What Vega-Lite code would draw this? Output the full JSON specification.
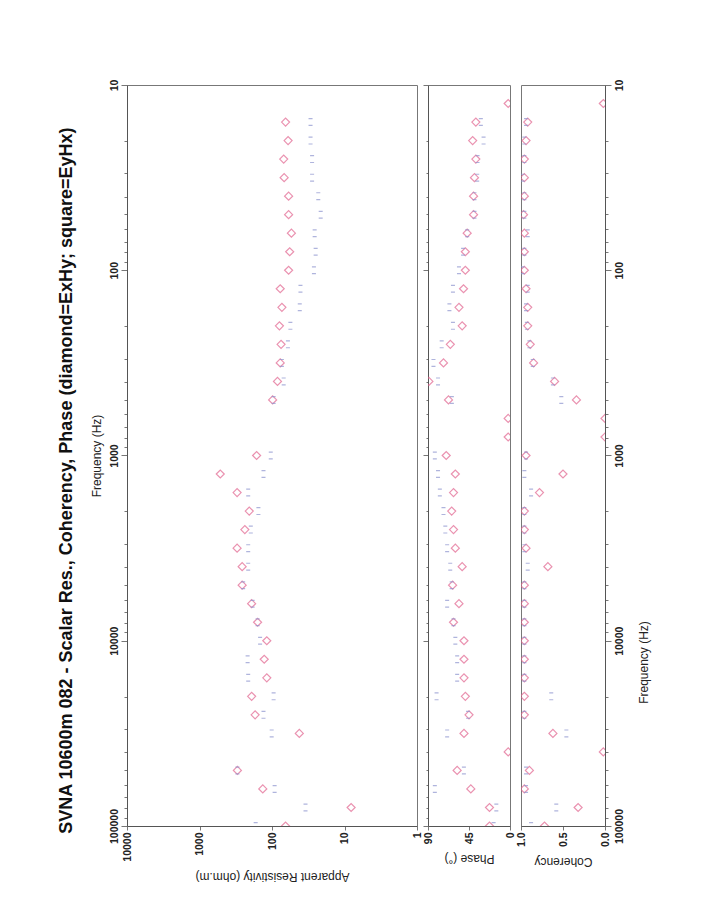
{
  "$schema": "https://vega.github.io/schema/vega-lite/v6.json",
  "background": "white",
  "padding": {"left": 57, "top": 78, "right": 5, "bottom": 5},
  "bounds": "flush",
  "spacing": 11,
  "title": {
    "text": "SVNA 10600m 082 - Scalar Res., Coherency, Phase (diamond=ExHy; square=EyHx)",
    "orient": "left",
    "anchor": "middle",
    "font": "Liberation Sans",
    "fontSize": 18,
    "fontWeight": "bold",
    "color": "#111",
    "offset": 14
  },
  "config": {
    "font": "Liberation Sans",
    "view": {"stroke": "#777", "strokeWidth": 1},
    "axis": {
      "labelFont": "Liberation Sans",
      "labelFontWeight": "bold",
      "labelFontSize": 10.5,
      "labelColor": "#222",
      "titleFont": "Liberation Sans",
      "titleFontWeight": "normal",
      "titleFontSize": 12,
      "titleColor": "#222",
      "domainColor": "#555",
      "tickColor": "#777",
      "grid": false
    },
    "point": {"filled": false, "strokeWidth": 1.2, "size": 64}
  },
  "datasets": {
    "mt": [
      {"f": 12.589, "c": "ExHy", "rho": null, "ph": 2, "coh": 0.02},
      {"f": 15.849, "c": "ExHy", "rho": 65, "ph": 37.5, "coh": 0.92},
      {"f": 19.953, "c": "ExHy", "rho": 60, "ph": 41, "coh": 0.94},
      {"f": 25.119, "c": "ExHy", "rho": 69, "ph": 37.5, "coh": 0.96},
      {"f": 31.623, "c": "ExHy", "rho": 68, "ph": 39, "coh": 0.96},
      {"f": 39.811, "c": "ExHy", "rho": 59, "ph": 40, "coh": 0.96},
      {"f": 50.119, "c": "ExHy", "rho": 59, "ph": 40, "coh": 0.97},
      {"f": 63.096, "c": "ExHy", "rho": 54, "ph": 47, "coh": 0.96},
      {"f": 79.433, "c": "ExHy", "rho": 57, "ph": 49, "coh": 0.96},
      {"f": 100, "c": "ExHy", "rho": 59, "ph": 49, "coh": 0.96},
      {"f": 125.89, "c": "ExHy", "rho": 77, "ph": 51, "coh": 0.94},
      {"f": 158.49, "c": "ExHy", "rho": 73, "ph": 56, "coh": 0.92},
      {"f": 199.53, "c": "ExHy", "rho": 79, "ph": 52.5, "coh": 0.92},
      {"f": 251.19, "c": "ExHy", "rho": 75, "ph": 65.5, "coh": 0.89},
      {"f": 316.23, "c": "ExHy", "rho": 77, "ph": 73, "coh": 0.85},
      {"f": 398.11, "c": "ExHy", "rho": 84, "ph": 89, "coh": 0.6},
      {"f": 501.19, "c": "ExHy", "rho": 98, "ph": 67.5, "coh": 0.34},
      {"f": 630.96, "c": "ExHy", "rho": null, "ph": 2, "coh": 0.0},
      {"f": 794.33, "c": "ExHy", "rho": null, "ph": 2, "coh": 0.0},
      {"f": 1000, "c": "ExHy", "rho": 163, "ph": 70, "coh": 0.94},
      {"f": 1258.9, "c": "ExHy", "rho": 517, "ph": 60, "coh": 0.5},
      {"f": 1584.9, "c": "ExHy", "rho": 303, "ph": 62, "coh": 0.78},
      {"f": 1995.3, "c": "ExHy", "rho": 206, "ph": 64, "coh": 0.96},
      {"f": 2511.9, "c": "ExHy", "rho": 237, "ph": 62, "coh": 0.96},
      {"f": 3162.3, "c": "ExHy", "rho": 303, "ph": 60, "coh": 0.94},
      {"f": 3981.1, "c": "ExHy", "rho": 258, "ph": 52.5, "coh": 0.68},
      {"f": 5011.9, "c": "ExHy", "rho": 258, "ph": 63, "coh": 0.96},
      {"f": 6309.6, "c": "ExHy", "rho": 191, "ph": 56, "coh": 0.96},
      {"f": 7943.3, "c": "ExHy", "rho": 158, "ph": 62, "coh": 0.96},
      {"f": 10000, "c": "ExHy", "rho": 118, "ph": 50.5, "coh": 0.96},
      {"f": 12589, "c": "ExHy", "rho": 128, "ph": 50.5, "coh": 0.96},
      {"f": 15849, "c": "ExHy", "rho": 118, "ph": 50.5, "coh": 0.96},
      {"f": 19953, "c": "ExHy", "rho": 191, "ph": 49, "coh": 0.96},
      {"f": 25119, "c": "ExHy", "rho": 171, "ph": 45, "coh": 0.96},
      {"f": 31623, "c": "ExHy", "rho": 42, "ph": 50.5, "coh": 0.62},
      {"f": 39811, "c": "ExHy", "rho": null, "ph": 2, "coh": 0.02},
      {"f": 50119, "c": "ExHy", "rho": 300, "ph": 58, "coh": 0.9},
      {"f": 63096, "c": "ExHy", "rho": 134, "ph": 43, "coh": 0.96},
      {"f": 79433, "c": "ExHy", "rho": 8.1, "ph": 22.5, "coh": 0.32},
      {"f": 100000, "c": "ExHy", "rho": 65, "ph": 22.5, "coh": 0.72},
      {"f": 15.849, "c": "EyHx", "rho": 29.4, "ph": 32, "coh": 0.94},
      {"f": 19.953, "c": "EyHx", "rho": 29.4, "ph": 29, "coh": 0.96},
      {"f": 25.119, "c": "EyHx", "rho": 28, "ph": 35.6, "coh": 0.96},
      {"f": 31.623, "c": "EyHx", "rho": 28, "ph": 36, "coh": 0.98},
      {"f": 39.811, "c": "EyHx", "rho": 23, "ph": 39, "coh": 0.96},
      {"f": 50.119, "c": "EyHx", "rho": 21.3, "ph": 39, "coh": 0.96},
      {"f": 63.096, "c": "EyHx", "rho": 25.8, "ph": 47, "coh": 0.92},
      {"f": 79.433, "c": "EyHx", "rho": 25, "ph": 51.5, "coh": 0.96},
      {"f": 100, "c": "EyHx", "rho": 26.4, "ph": 56, "coh": 0.98},
      {"f": 125.89, "c": "EyHx", "rho": 40.5, "ph": 62.6, "coh": 0.92},
      {"f": 158.49, "c": "EyHx", "rho": 41.4, "ph": 66.5, "coh": 0.94},
      {"f": 199.53, "c": "EyHx", "rho": 55.8, "ph": 62.6, "coh": 0.93},
      {"f": 251.19, "c": "EyHx", "rho": 60.3, "ph": 75, "coh": 0.9},
      {"f": 316.23, "c": "EyHx", "rho": 73, "ph": 84, "coh": 0.86},
      {"f": 398.11, "c": "EyHx", "rho": 69, "ph": 79, "coh": 0.62},
      {"f": 501.19, "c": "EyHx", "rho": 95, "ph": 63.8, "coh": 0.52},
      {"f": 1000, "c": "EyHx", "rho": 104, "ph": 82.5, "coh": 0.94},
      {"f": 1258.9, "c": "EyHx", "rho": 131, "ph": 79, "coh": 0.96},
      {"f": 1584.9, "c": "EyHx", "rho": 213, "ph": 77, "coh": 0.88},
      {"f": 1995.3, "c": "EyHx", "rho": 154, "ph": 73, "coh": 0.96},
      {"f": 2511.9, "c": "EyHx", "rho": 196, "ph": 71, "coh": 0.96},
      {"f": 3162.3, "c": "EyHx", "rho": 213, "ph": 69, "coh": 0.96},
      {"f": 3981.1, "c": "EyHx", "rho": 213, "ph": 65.6, "coh": 0.92},
      {"f": 5011.9, "c": "EyHx", "rho": 250, "ph": 64, "coh": 0.96},
      {"f": 6309.6, "c": "EyHx", "rho": 185, "ph": 69, "coh": 0.96},
      {"f": 7943.3, "c": "EyHx", "rho": 158, "ph": 62, "coh": 0.96},
      {"f": 10000, "c": "EyHx", "rho": 146, "ph": 60, "coh": 0.96},
      {"f": 12589, "c": "EyHx", "rho": 217, "ph": 58, "coh": 0.96},
      {"f": 15849, "c": "EyHx", "rho": 213, "ph": 58, "coh": 0.96},
      {"f": 19953, "c": "EyHx", "rho": 95, "ph": 80.6, "coh": 0.64},
      {"f": 25119, "c": "EyHx", "rho": 131, "ph": 46, "coh": 0.96},
      {"f": 31623, "c": "EyHx", "rho": 101, "ph": 69, "coh": 0.46},
      {"f": 50119, "c": "EyHx", "rho": 300, "ph": 50.6, "coh": 0.94},
      {"f": 63096, "c": "EyHx", "rho": 92, "ph": 82.5, "coh": 0.94},
      {"f": 79433, "c": "EyHx", "rho": 34.5, "ph": 15, "coh": 0.58},
      {"f": 100000, "c": "EyHx", "rho": 168, "ph": 18, "coh": 0.88}
    ]
  },
  "hconcat": [
    {
      "width": 290,
      "height": 741,
      "data": {"name": "mt"},
      "mark": {"type": "point", "clip": true},
      "encoding": {
        "y": {
          "field": "f", "type": "quantitative",
          "scale": {"type": "log", "domain": [10, 100000], "reverse": true, "nice": false},
          "axis": {
            "title": "Frequency (Hz)",
            "values": [10,20,30,40,50,60,70,80,90,100,200,300,400,500,600,700,800,900,1000,2000,3000,4000,5000,6000,7000,8000,9000,10000,20000,30000,40000,50000,60000,70000,80000,90000,100000],
            "labelExpr": "indexof([10,100,1000,10000,100000], datum.value) >= 0 ? format(datum.value, 'd') : ''",
            "labelAngle": -90,
            "tickSize": {"condition": {"test": "indexof([10,100,1000,10000,100000], datum.value) >= 0", "value": 6}, "value": 3},
            "labelPadding": 2,
            "titlePadding": 6
          }
        },
        "x": {
          "field": "rho", "type": "quantitative",
          "scale": {"type": "log", "domain": [1, 10000], "reverse": true, "nice": false},
          "axis": {
            "title": "Apparent Resistivity (ohm.m)",
            "values": [1, 10, 100, 1000, 10000],
            "format": "d",
            "labelAngle": -90,
            "titleAngle": 180,
            "tickSize": 4,
            "titlePadding": 20
          }
        },
        "shape": {
          "field": "c", "type": "nominal",
          "scale": {"domain": ["ExHy", "EyHx"], "range": ["diamond", "M-0.5,-0.85H0.5M-0.5,0.85H0.5"]},
          "legend": null
        },
        "color": {
          "field": "c", "type": "nominal",
          "scale": {"domain": ["ExHy", "EyHx"], "range": ["#e2648f", "#8e95cf"]},
          "legend": null
        }
      }
    },
    {
      "width": 82,
      "height": 741,
      "data": {"name": "mt"},
      "mark": {"type": "point", "clip": true},
      "encoding": {
        "y": {
          "field": "f", "type": "quantitative",
          "scale": {"type": "log", "domain": [10, 100000], "reverse": true, "nice": false},
          "axis": {
            "title": null,
            "labels": false,
            "values": [10,20,30,40,50,60,70,80,90,100,200,300,400,500,600,700,800,900,1000,2000,3000,4000,5000,6000,7000,8000,9000,10000,20000,30000,40000,50000,60000,70000,80000,90000,100000],
            "tickSize": {"condition": {"test": "indexof([10,100,1000,10000,100000], datum.value) >= 0", "value": 5}, "value": 2}
          }
        },
        "x": {
          "field": "ph", "type": "quantitative",
          "scale": {"domain": [0, 90], "reverse": true, "nice": false},
          "axis": {
            "title": "Phase (°)",
            "values": [0, 45, 90],
            "labelAngle": -90,
            "titleAngle": 180,
            "tickSize": 4,
            "titlePadding": 20
          }
        },
        "shape": {
          "field": "c", "type": "nominal",
          "scale": {"domain": ["ExHy", "EyHx"], "range": ["diamond", "M-0.5,-0.85H0.5M-0.5,0.85H0.5"]},
          "legend": null
        },
        "color": {
          "field": "c", "type": "nominal",
          "scale": {"domain": ["ExHy", "EyHx"], "range": ["#e2648f", "#8e95cf"]},
          "legend": null
        }
      }
    },
    {
      "width": 84,
      "height": 741,
      "data": {"name": "mt"},
      "mark": {"type": "point", "clip": true},
      "encoding": {
        "y": {
          "field": "f", "type": "quantitative",
          "scale": {"type": "log", "domain": [10, 100000], "reverse": true, "nice": false},
          "axis": {
            "orient": "right",
            "title": "Frequency (Hz)",
            "titleAngle": -90,
            "titleY": 577,
            "titleX": 38,
            "titleAlign": "center",
            "titleBaseline": "middle",
            "values": [10,20,30,40,50,60,70,80,90,100,200,300,400,500,600,700,800,900,1000,2000,3000,4000,5000,6000,7000,8000,9000,10000,20000,30000,40000,50000,60000,70000,80000,90000,100000],
            "labelExpr": "indexof([10,100,1000,10000,100000], datum.value) >= 0 ? format(datum.value, 'd') : ''",
            "labelAngle": -90,
            "tickSize": {"condition": {"test": "indexof([10,100,1000,10000,100000], datum.value) >= 0", "value": 6}, "value": 3},
            "labelPadding": 3
          }
        },
        "x": {
          "field": "coh", "type": "quantitative",
          "scale": {"domain": [0, 1], "reverse": true, "nice": false},
          "axis": {
            "title": "Coherency",
            "values": [0, 0.5, 1],
            "format": ".1f",
            "labelAngle": -90,
            "titleAngle": 180,
            "tickSize": 4,
            "titlePadding": 20
          }
        },
        "shape": {
          "field": "c", "type": "nominal",
          "scale": {"domain": ["ExHy", "EyHx"], "range": ["diamond", "M-0.5,-0.85H0.5M-0.5,0.85H0.5"]},
          "legend": null
        },
        "color": {
          "field": "c", "type": "nominal",
          "scale": {"domain": ["ExHy", "EyHx"], "range": ["#e2648f", "#8e95cf"]},
          "legend": null
        }
      }
    }
  ],
  "resolve": {"scale": {"shape": "shared", "color": "shared"}}
}
